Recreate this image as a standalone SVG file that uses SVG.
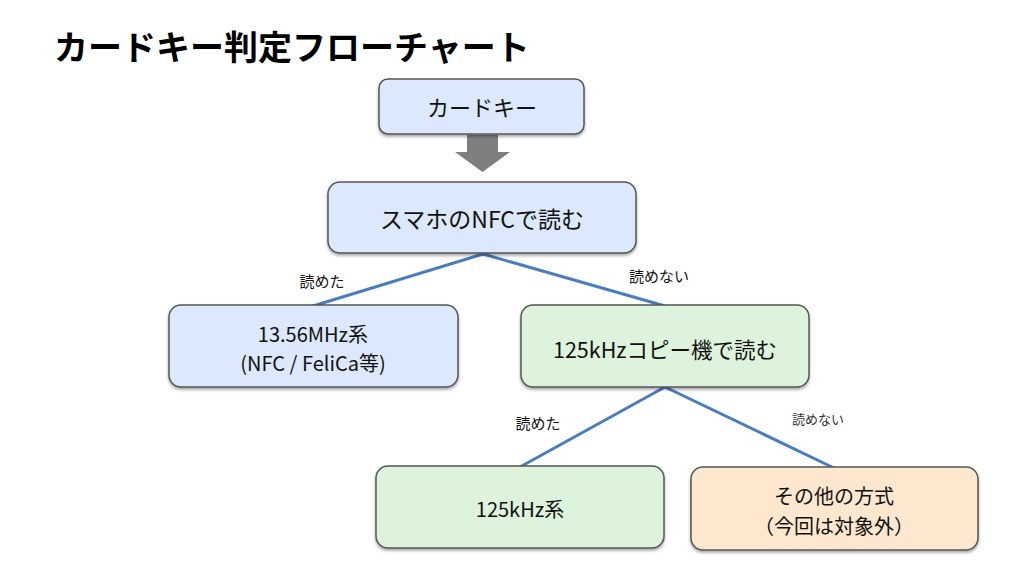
<svg xmlns="http://www.w3.org/2000/svg" width="1024" height="565" viewBox="0 0 1024 565">
<style>
text{font-family:"Noto Sans CJK JP","Noto Sans",sans-serif;fill:#111;}
.box{stroke:#555;stroke-width:1.5;filter:url(#sh);}
.blue{fill:#dce8fb;}
.green{fill:#def3dc;}
.orange{fill:#fde8cf;}
.t{font-size:21px;text-anchor:middle;dominant-baseline:central;}
.lbl{font-size:15px;text-anchor:middle;dominant-baseline:central;}
.conn{stroke:#4a7dbb;stroke-width:3;fill:none;}
</style>
<defs>
<filter id="sh" x="-10%" y="-10%" width="120%" height="130%">
<feDropShadow dx="0" dy="2" stdDeviation="1.5" flood-color="#000" flood-opacity="0.35"/>
</filter>
</defs>
<rect width="1024" height="565" fill="#fff"/>
<text x="54" y="45" style="font-size:34px;font-weight:bold;dominant-baseline:central;fill:#000">カードキー判定フローチャート</text>
<g id="connectors">
<polygon points="467,135 498,135 498,152 510,152 482.5,172 455,152 467,152" fill="#7f7f7f"/>
<line class="conn" x1="483" y1="254" x2="313" y2="306"/>
<line class="conn" x1="483" y1="254" x2="665" y2="306"/>
<line class="conn" x1="665" y1="387" x2="520" y2="467"/>
<line class="conn" x1="665" y1="387" x2="834" y2="468"/>
<text class="lbl" x="322" y="280">読めた</text>
<text class="lbl" x="659" y="275">読めない</text>
<text class="lbl" x="538" y="422">読めた</text>
<text class="lbl" x="818" y="418" style="font-size:13px;fill:#333">読めない</text>
</g>
<g id="n1">
<rect class="box blue" x="379" y="79" width="205" height="55" rx="9"/>
<text class="t" x="482" y="106" style="font-size:22px">カードキー</text>
</g>
<g id="n2">
<rect class="box blue" x="328" y="182" width="308" height="71" rx="12"/>
<text class="t" x="482" y="218" style="font-size:23px">スマホのNFCで読む</text>
</g>
<g id="n3">
<rect class="box blue" x="169" y="305" width="289" height="82" rx="12"/>
<text class="t" x="313" y="333" style="font-size:20px">13.56MHz系</text>
<text class="t" x="313" y="362" style="font-size:20px">(NFC / FeliCa等)</text>
</g>
<g id="n4">
<rect class="box green" x="521" y="305" width="288" height="82" rx="12"/>
<text class="t" x="665" y="348" style="font-size:21.5px">125kHzコピー機で読む</text>
</g>
<g id="n5">
<rect class="box green" x="376" y="466" width="288" height="82" rx="12"/>
<text class="t" x="520" y="508" style="font-size:20px">125kHz系</text>
</g>
<g id="n6">
<rect class="box orange" x="691" y="467" width="287" height="83" rx="12"/>
<text class="t" x="834" y="495" style="font-size:20px">その他の方式</text>
<text class="t" x="834" y="525" style="font-size:20px">（今回は対象外）</text>
</g>
</svg>
